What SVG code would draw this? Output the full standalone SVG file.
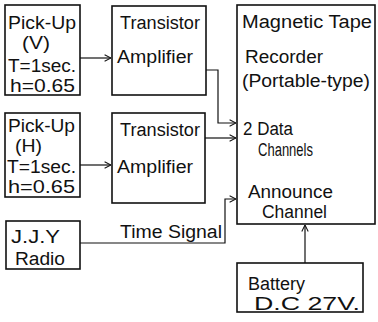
<svg xmlns="http://www.w3.org/2000/svg" width="378" height="322" viewBox="0 0 378 322">
<defs>
<style>
.box{fill:#fff;stroke:#111;stroke-width:1.6}
.t{font-family:"Liberation Sans",Arial,sans-serif;font-size:18px;fill:#111}
.c{fill:none;stroke:#111;stroke-width:1.2}
</style>
<marker id="ah" viewBox="0 0 10 10" refX="10" refY="5" markerWidth="8" markerHeight="8" markerUnits="userSpaceOnUse" orient="auto">
<path d="M2,1 L10,5 L2,9" fill="none" stroke="#111" stroke-width="1.3"/>
</marker>
</defs>
<rect width="378" height="322" fill="#fff"/>
<g id="connectors">
<path class="c" d="M80,58 H111" marker-end="url(#ah)"/>
<path class="c" d="M80,165 H111" marker-end="url(#ah)"/>
<path class="c" d="M206,70 H218 V123 H236" marker-end="url(#ah)"/>
<path class="c" d="M205,138 H236" marker-end="url(#ah)"/>
<path class="c" d="M80,243 H225 V199 H236" marker-end="url(#ah)"/>
<path class="c" d="M305,263 V225" marker-end="url(#ah)"/>
<text class="t" x="120" y="238" textLength="102" lengthAdjust="spacingAndGlyphs">Time Signal</text>
</g>
<g id="pickup-v">
<rect class="box" x="5" y="5" width="75" height="90"/>
<text class="t" x="8" y="29" textLength="68" lengthAdjust="spacingAndGlyphs">Pick-Up</text>
<text class="t" x="22" y="49" textLength="28" lengthAdjust="spacingAndGlyphs">(V)</text>
<text class="t" x="8" y="72" textLength="68" lengthAdjust="spacingAndGlyphs">T=1sec.</text>
<text class="t" x="10" y="92" textLength="65" lengthAdjust="spacingAndGlyphs">h=0.65</text>
</g>
<g id="pickup-h">
<rect class="box" x="5" y="113" width="75" height="84"/>
<text class="t" x="8" y="132" textLength="67" lengthAdjust="spacingAndGlyphs">Pick-Up</text>
<text class="t" x="15" y="152" textLength="27" lengthAdjust="spacingAndGlyphs">(H)</text>
<text class="t" x="7" y="173" textLength="69" lengthAdjust="spacingAndGlyphs">T=1sec.</text>
<text class="t" x="8" y="193" textLength="67" lengthAdjust="spacingAndGlyphs">h=0.65</text>
</g>
<g id="amp-1">
<rect class="box" x="112" y="6" width="94" height="89"/>
<text class="t" x="120" y="29" textLength="80" lengthAdjust="spacingAndGlyphs">Transistor</text>
<text class="t" x="117" y="63" textLength="76" lengthAdjust="spacingAndGlyphs">Amplifier</text>
</g>
<g id="amp-2">
<rect class="box" x="112" y="113" width="93" height="90"/>
<text class="t" x="120" y="136" textLength="80" lengthAdjust="spacingAndGlyphs">Transistor</text>
<text class="t" x="117" y="173" textLength="76" lengthAdjust="spacingAndGlyphs">Amplifier</text>
</g>
<g id="recorder">
<rect class="box" x="237" y="5" width="138" height="219"/>
<text class="t" x="242" y="28" textLength="130" lengthAdjust="spacingAndGlyphs">Magnetic Tape</text>
<text class="t" x="245" y="63" textLength="78" lengthAdjust="spacingAndGlyphs">Recorder</text>
<text class="t" x="242" y="87" textLength="128" lengthAdjust="spacingAndGlyphs">(Portable-type)</text>
<text class="t" x="243" y="135" textLength="50" lengthAdjust="spacingAndGlyphs">2 Data</text>
<text class="t" x="258" y="156" textLength="55" lengthAdjust="spacingAndGlyphs">Channels</text>
<text class="t" x="248" y="198" textLength="85" lengthAdjust="spacingAndGlyphs">Announce</text>
<text class="t" x="262" y="218" textLength="65" lengthAdjust="spacingAndGlyphs">Channel</text>
</g>
<g id="jjy-radio">
<rect class="box" x="6" y="221" width="74" height="48"/>
<text class="t" x="11" y="243" textLength="49" lengthAdjust="spacingAndGlyphs">J.J.Y</text>
<text class="t" x="15" y="265" textLength="50" lengthAdjust="spacingAndGlyphs">Radio</text>
</g>
<g id="battery">
<rect class="box" x="237" y="263" width="126" height="49"/>
<text class="t" x="248" y="290" textLength="57" lengthAdjust="spacingAndGlyphs">Battery</text>
<text class="t" x="254" y="310" textLength="106" lengthAdjust="spacingAndGlyphs">D.C 27V.</text>
</g>
</svg>
